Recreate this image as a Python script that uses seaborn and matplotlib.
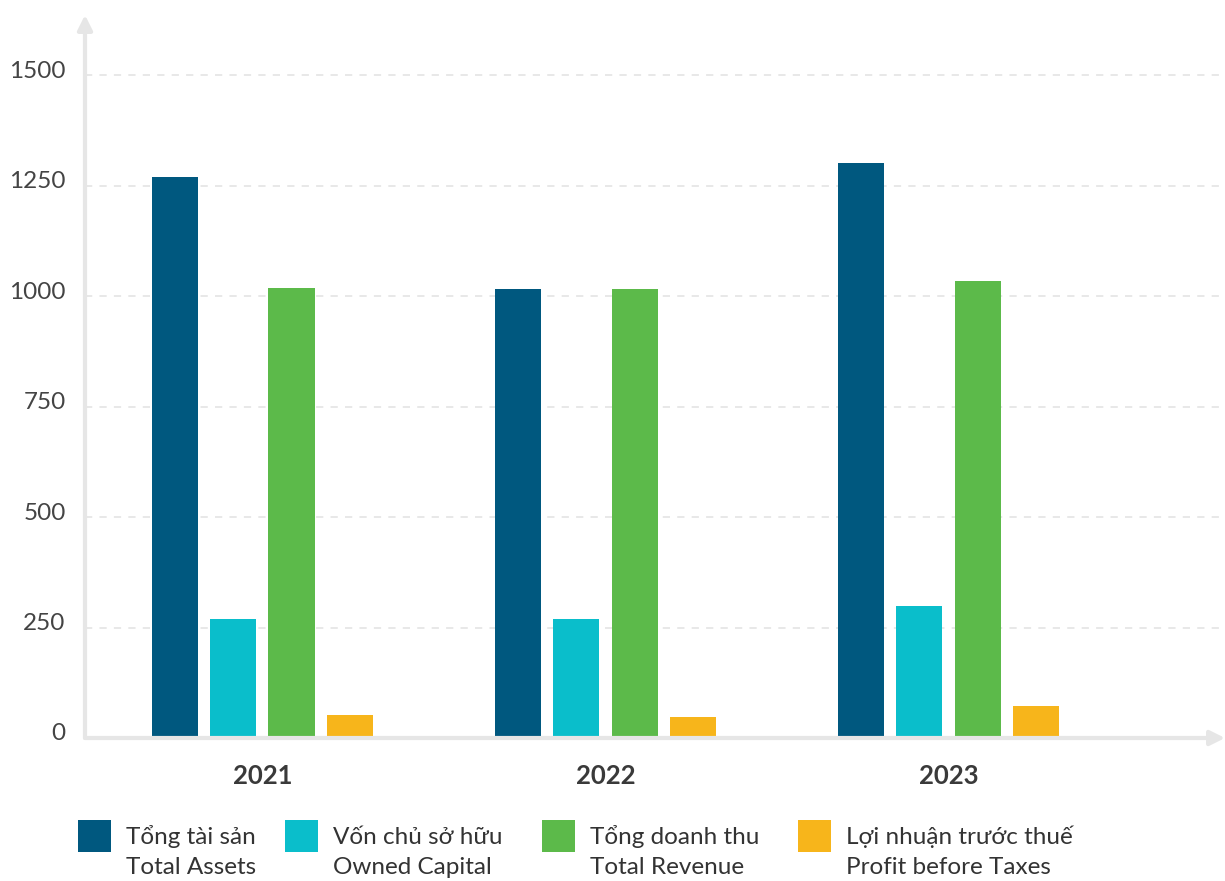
import matplotlib
matplotlib.use("Agg")
import matplotlib.pyplot as plt
import matplotlib.transforms as mtransforms
from matplotlib.patches import Rectangle
import seaborn as sns
import pandas as pd

# ---- data ----
years = ["2021", "2022", "2023"]
series_vi = ["Tổng tài sản", "Vốn chủ sở hữu", "Tổng doanh thu", "Lợi nhuận trước thuế"]
series_en = ["Total Assets", "Owned Capital", "Total Revenue", "Profit before Taxes"]
total_assets = [1270, 1016, 1300]
owned_capital = [270, 270, 298]
total_revenue = [1018, 1016, 1034]
profit_before_taxes = [52, 48, 73]
y_ticks = [0, 250, 500, 750, 1000, 1250, 1500]
colors = ["#00587F", "#0ABECB", "#5CBA4A", "#F7B51B"]

values = [total_assets, owned_capital, total_revenue, profit_before_taxes]
rows = []
for s, vals in zip(series_en, values):
    for y, v in zip(years, vals):
        rows.append({"year": y, "series": s, "value": v})
df = pd.DataFrame(rows)

sns.set_theme(style="white")
plt.rcParams["font.family"] = ["Lato", "DejaVu Sans"]

fig = plt.figure(figsize=(12.25, 8.81), dpi=100)
ax = fig.add_axes([85 / 1225, 1 - 738 / 881, 1 - 85 / 1225, (738 - 15) / 881])

sns.barplot(data=df, x="year", y="value", hue="series", order=years,
            hue_order=series_en, palette=colors, width=0.68, gap=0.21,
            linewidth=0, saturation=1, legend=False, ax=ax, zorder=3)

ax.set_xlim(-0.517, 2.806)
ax.set_ylim(0, 1636)
ax.set_yticks(y_ticks)
ax.set_yticklabels([str(t) for t in y_ticks])
ax.set_xlabel("")
ax.set_ylabel("")

for side in ["top", "right", "left", "bottom"]:
    ax.spines[side].set_visible(False)

ax.yaxis.grid(True, color="#E6E6E6", linestyle=(0, (4, 4)), linewidth=1.3, zorder=0)
ax.xaxis.grid(False)
ax.tick_params(axis="y", length=0, pad=14, labelsize=17.5, labelcolor="#444444")
ax.tick_params(axis="x", length=0, pad=19, labelsize=18.5, labelcolor="#3A3A3A")
for lab in ax.get_xticklabels():
    lab.set_fontweight("bold")
offset = mtransforms.ScaledTranslation(0, 6 / 100, fig.dpi_scale_trans)
for lab in ax.get_yticklabels():
    lab.set_transform(lab.get_transform() + offset)

# axis arrows
arrow_kw = dict(arrowstyle="-|>", color="#E6E6E6", lw=3, mutation_scale=22,
                shrinkA=0, shrinkB=0)
ax.annotate("", xy=(0, 1.0), xytext=(0, 0), xycoords="axes fraction",
            textcoords="axes fraction", arrowprops=arrow_kw, annotation_clip=False)
ax.annotate("", xy=(1.0, 0), xytext=(0, 0), xycoords="axes fraction",
            textcoords="axes fraction", arrowprops=arrow_kw, annotation_clip=False)

# legend (manual, two-line labels)
sq_x = [78, 285, 542, 798]
for i, (vi, en, c) in enumerate(zip(series_vi, series_en, colors)):
    x0 = sq_x[i]
    fig.patches.append(Rectangle((x0 / 1225, 1 - 852 / 881), 33 / 1225, 32 / 881,
                                 transform=fig.transFigure, facecolor=c,
                                 edgecolor="none"))
    fig.text((x0 + 48) / 1225, 1 - 837 / 881, vi, fontsize=17.5, color="#333333",
             va="center", ha="left")
    fig.text((x0 + 48) / 1225, 1 - 868 / 881, en, fontsize=17.5, color="#333333",
             va="center", ha="left")

fig.savefig("out.png", dpi=100)
